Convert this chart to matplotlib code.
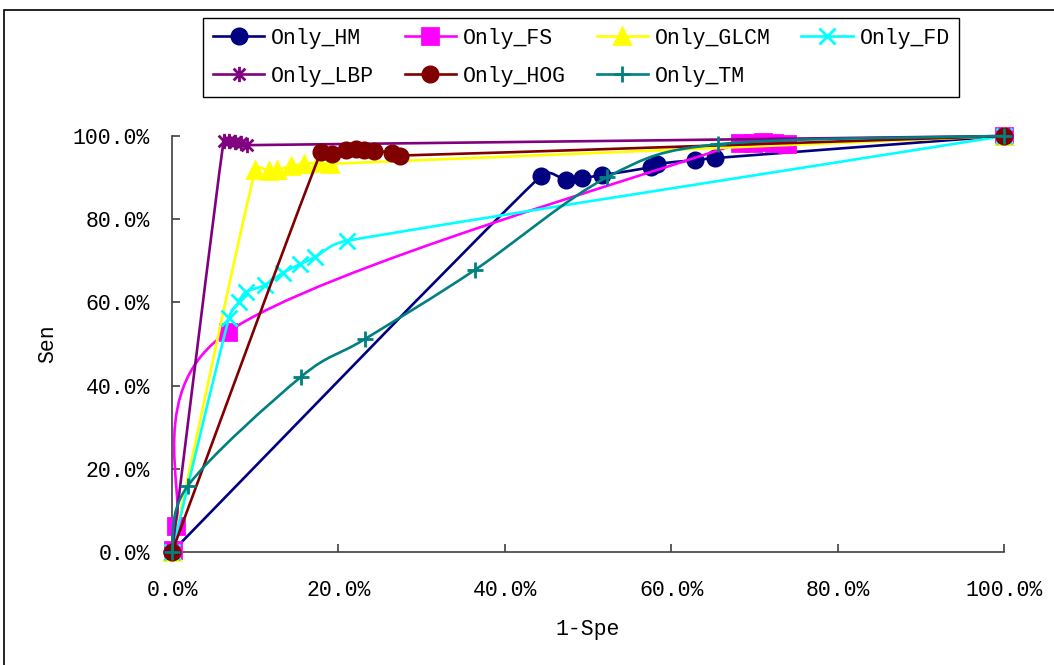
import matplotlib
matplotlib.use("Agg")
import matplotlib.pyplot as plt
import numpy as np
from matplotlib.path import Path
from matplotlib.patches import PathPatch, Rectangle
from matplotlib.lines import Line2D
from matplotlib.ticker import PercentFormatter, MultipleLocator

""" Data read off the chart (x = 1-Spe %, y = Sen %) """
hm_x = [0, 44.35, 47.4, 49.3, 51.7, 57.6, 58.3, 62.9, 65.3, 100]
hm_y = [0, 90.4, 89.4, 89.9, 90.6, 92.5, 93.3, 94.2, 94.7, 100]

fs_x = [0.1, 0.5, 6.7, 68.3, 69.8, 71.0, 72.4, 73.9, 100]
fs_y = [0.5, 6.3, 52.9, 98.4, 98.2, 98.5, 98.3, 98.1, 100]

glcm_x = [0, 10.0, 11.7, 12.6, 14.3, 15.9, 17.5, 19.0, 100]
glcm_y = [0, 91.8, 91.6, 91.8, 92.8, 93.3, 93.5, 93.3, 100]

fd_x = [0, 6.85, 8.05, 8.9, 11.2, 13.3, 15.4, 17.2, 21.0, 100]
fd_y = [0, 56.3, 60.1, 62.5, 64.2, 67.1, 69.2, 70.9, 74.8, 100]

lbp_x = [0, 6.2, 6.9, 7.6, 8.3, 9.0, 100]
lbp_y = [0, 98.8, 98.8, 98.5, 98.2, 97.8, 100]

hog_x = [0, 17.9, 19.2, 20.9, 22.1, 23.1, 24.3, 26.4, 27.4, 100]
hog_y = [0, 96.2, 95.7, 96.6, 96.9, 96.6, 96.4, 96.0, 95.3, 100]

tm_x = [0, 1.9, 15.5, 23.2, 36.4, 52.3, 65.6, 100]
tm_y = [0, 15.9, 42.1, 51.2, 67.8, 90.1, 98.0, 100]

labels = ["Only_HM", "Only_FS", "Only_GLCM", "Only_FD", "Only_LBP", "Only_HOG", "Only_TM"]
colors = ["#000080", "#FF00FF", "#FFFF00", "#00FFFF", "#800080", "#800000", "#008080"]

# excel style asterisk: an x with a vertical bar
star = Path([(-1, -1), (1, 1), (-1, 1), (1, -1), (0, -1.3), (0, 1.3)],
            [Path.MOVETO, Path.LINETO, Path.MOVETO, Path.LINETO, Path.MOVETO, Path.LINETO])
markers = ["o", "s", "^", "x", star, "o", "+"]
msizes = [11, 11, 11, 11, 11, 11, 12]

series = [(hm_x, hm_y), (fs_x, fs_y), (glcm_x, glcm_y), (fd_x, fd_y),
          (lbp_x, lbp_y), (hog_x, hog_y), (tm_x, tm_y)]

FONT = "Liberation Mono"
FS = 15.5
SX, SY = 8.32, 4.16   # pixels per percent on each axis


def smooth_path(x, y):
  """ Bezier path through the points, like excel's smoothed line """
  p = np.column_stack([np.array(x) * SX, np.array(y) * SY]).astype(float)
  n = len(p)
  verts = [p[0]]
  codes = [Path.MOVETO]
  for i in range(n - 1):
    p0 = p[i - 1] if i > 0 else p[i]
    p3 = p[i + 2] if i + 2 < n else p[i + 1]
    seg = np.hypot(*(p[i + 1] - p[i]))
    d1 = (p[i + 1] - p0) / 6.0
    d2 = (p3 - p[i]) / 6.0
    # keep the handles short on uneven spacing, no loops
    for d in (d1, d2):
      ln = np.hypot(*d)
      if ln > 0.5 * seg and ln > 0:
        d *= 0.5 * seg / ln
    verts += [p[i] + d1, p[i + 1] - d2, p[i + 1]]
    codes += [Path.CURVE4] * 3
  verts = np.array(verts) / [SX, SY]
  return Path(verts, codes)


fig = plt.figure(figsize=(10.54, 6.65), dpi=100)
ax = fig.add_axes([172 / 1054, 1 - 552 / 665, 832 / 1054, 416 / 665])

handles = []
for k, (xs, ys) in enumerate(series):
  patch = PathPatch(smooth_path(xs, ys), fill=False, edgecolor=colors[k], lw=1.9,
                    zorder=2 + k, clip_on=False, capstyle="round", joinstyle="round")
  ax.add_patch(patch)
  ax.plot(xs, ys, linestyle="none", marker=markers[k], markersize=msizes[k],
          color=colors[k], markeredgecolor=colors[k], markeredgewidth=2,
          clip_on=False, zorder=2 + k)
  handles.append(Line2D([], [], color=colors[k], lw=1.9, marker=markers[k],
                        markersize=msizes[k], markeredgewidth=2, markeredgecolor=colors[k]))

ax.set_xlim(0, 100)
ax.set_ylim(0, 100)
ax.xaxis.set_major_locator(MultipleLocator(20))
ax.yaxis.set_major_locator(MultipleLocator(20))
ax.xaxis.set_major_formatter(PercentFormatter(xmax=100, decimals=1))
ax.yaxis.set_major_formatter(PercentFormatter(xmax=100, decimals=1))

for s in ["top", "right"]:
  ax.spines[s].set_visible(False)
for s in ["left", "bottom"]:
  ax.spines[s].set_color("#404040")
  ax.spines[s].set_linewidth(1.2)
  ax.spines[s].set_zorder(1)

ax.tick_params(axis="both", direction="in", length=6, width=1.2, color="#404040",
               labelsize=FS, labelfontfamily=FONT)
ax.tick_params(axis="y", pad=16)
ax.tick_params(axis="x", pad=20)

ax.set_xlabel("1-Spe", fontsize=FS, family=FONT, va="center")
ax.set_ylabel("Sen", fontsize=FS, family=FONT, va="center")
ax.xaxis.set_label_coords(0.5, (552 - 630) / 416)
ax.yaxis.set_label_coords((48 - 172) / 832, 0.5)

""" legend fills by column, so reorder to get excel's row layout """
order = [0, 4, 1, 5, 2, 6, 3]
leg = fig.legend([handles[i] for i in order], [labels[i] for i in order],
                 ncol=4, loc="upper left", bbox_to_anchor=(203 / 1054, 1 - 18 / 665),
                 borderaxespad=0, prop={"family": FONT, "size": FS},
                 handlelength=2.4, handletextpad=0.3, columnspacing=1.43,
                 borderpad=0.45, labelspacing=0.8,
                 frameon=True, fancybox=False, framealpha=1, edgecolor="black")
leg.get_frame().set_linewidth(1.0)

fig.add_artist(Rectangle((4 / 1054, -0.1), 1.2, 1 - 10 / 665 + 0.1, transform=fig.transFigure,
                         fill=False, edgecolor="black", lw=1.2))

fig.savefig("out.png", dpi=100)
